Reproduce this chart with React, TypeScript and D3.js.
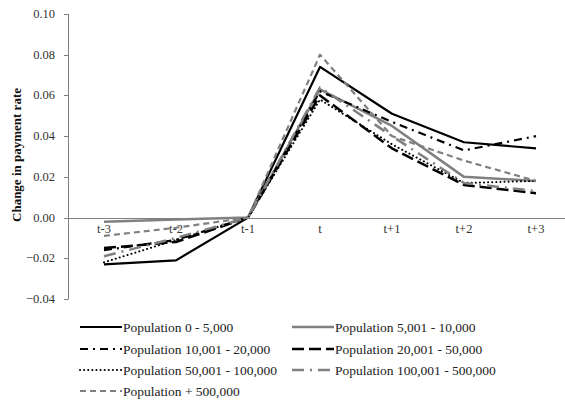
import React from "react";
import * as d3 from "d3";

const categories = ["t-3", "t-2", "t-1", "t", "t+1", "t+2", "t+3"];
const yTicks = [-0.04, -0.02, 0, 0.02, 0.04, 0.06, 0.08, 0.1];

const pop0to5k = [-0.023, -0.021, 0, 0.074, 0.051, 0.037, 0.034];
const pop5to10k = [-0.002, -0.001, 0, 0.063, 0.045, 0.02, 0.018];
const pop10to20k = [-0.016, -0.011, 0, 0.062, 0.047, 0.033, 0.04];
const pop20to50k = [-0.015, -0.012, 0, 0.06, 0.034, 0.016, 0.012];
const pop50to100k = [-0.022, -0.011, 0, 0.058, 0.036, 0.017, 0.018];
const pop100to500k = [-0.019, -0.01, 0, 0.064, 0.04, 0.017, 0.013];
const pop500kPlus = [-0.009, -0.005, 0, 0.08, 0.04, 0.028, 0.018];

const seriesNames = [
  "Population 0 - 5,000",
  "Population 5,001 - 10,000",
  "Population 10,001 - 20,000",
  "Population 20,001 - 50,000",
  "Population 50,001 - 100,000",
  "Population 100,001 - 500,000",
  "Population + 500,000",
];
const seriesValues = [pop0to5k, pop5to10k, pop10to20k, pop20to50k, pop50to100k, pop100to500k, pop500kPlus];

const BLACK = "#000000";
const GRAY = "#808080";
const styles = [
  { color: BLACK, width: 2.2, dash: "", cap: "butt" },
  { color: GRAY, width: 2.5, dash: "", cap: "butt" },
  { color: BLACK, width: 2.2, dash: "8,5,2,5", cap: "butt" },
  { color: BLACK, width: 2.5, dash: "12,5", cap: "butt" },
  { color: BLACK, width: 2, dash: "0.1,4", cap: "round" },
  { color: GRAY, width: 2.5, dash: "12,6,2,6", cap: "butt" },
  { color: GRAY, width: 2.2, dash: "6,4", cap: "butt" },
];

const FONT = "'Liberation Serif', 'DejaVu Serif', serif";

export default function App() {
  const W = 565, H = 412;
  const x = d3.scalePoint<string>().domain(categories).range([68, 572]).padding(0.5);
  const y = d3.scaleLinear().domain([-0.04, 0.1]).range([299, 14]);
  const line = d3
    .line<number>()
    .x((_, i) => x(categories[i]) as number)
    .y((d) => y(d));

  const legendCols = [80, 292];
  const legendRows = [327, 349, 370, 391];

  return (
    <svg
      width={W}
      height={H}
      style={{ position: "absolute", left: 0, top: 0, background: "#fff" }}
      fontFamily={FONT}
    >
      <rect x={0} y={0} width={W} height={H} fill="#fff" />
      {/* y axis */}
      <line x1={68.5} x2={68.5} y1={y(0.1)} y2={y(-0.04)} stroke={GRAY} strokeWidth={1} />
      {yTicks.map((t) => (
        <g key={t}>
          <line x1={64} x2={68.5} y1={Math.round(y(t)) + 0.5} y2={Math.round(y(t)) + 0.5} stroke={GRAY} />
          <text x={55} y={y(t) + 4} textAnchor="end" fontSize={12.5} fill="#333">
            {d3.format(".2f")(t)}
          </text>
        </g>
      ))}
      {/* zero axis */}
      <line x1={68} x2={572} y1={Math.round(y(0)) + 0.5} y2={Math.round(y(0)) + 0.5} stroke={GRAY} strokeWidth={1} />
      {categories.map((c) => (
        <text key={c} x={x(c)} y={y(0) + 15} textAnchor="middle" fontSize={12.5} fill="#333">
          {c}
        </text>
      ))}
      <text
        transform={`translate(21,${155}) rotate(-90)`}
        textAnchor="middle"
        fontSize={13}
        fontWeight="bold"
        fill="#111"
      >
        Change in payment rate
      </text>
      {/* series */}
      {seriesValues.map((vals, i) => (
        <path
          key={seriesNames[i]}
          d={line(vals) || ""}
          fill="none"
          stroke={styles[i].color}
          strokeWidth={styles[i].width}
          strokeDasharray={styles[i].dash || undefined}
          strokeLinecap={styles[i].cap as any}
          strokeLinejoin="round"
        />
      ))}
      {/* legend */}
      {seriesNames.map((name, i) => {
        const lx = legendCols[i % 2];
        const ly = legendRows[Math.floor(i / 2)];
        return (
          <g key={name}>
            <line
              x1={lx}
              x2={lx + 42}
              y1={ly}
              y2={ly}
              stroke={styles[i].color}
              strokeWidth={styles[i].width}
              strokeDasharray={styles[i].dash || undefined}
              strokeLinecap={styles[i].cap as any}
            />
            <text x={lx + 43} y={ly + 4.5} fontSize={13.5} fill="#222">
              {name}
            </text>
          </g>
        );
      })}
    </svg>
  );
}
